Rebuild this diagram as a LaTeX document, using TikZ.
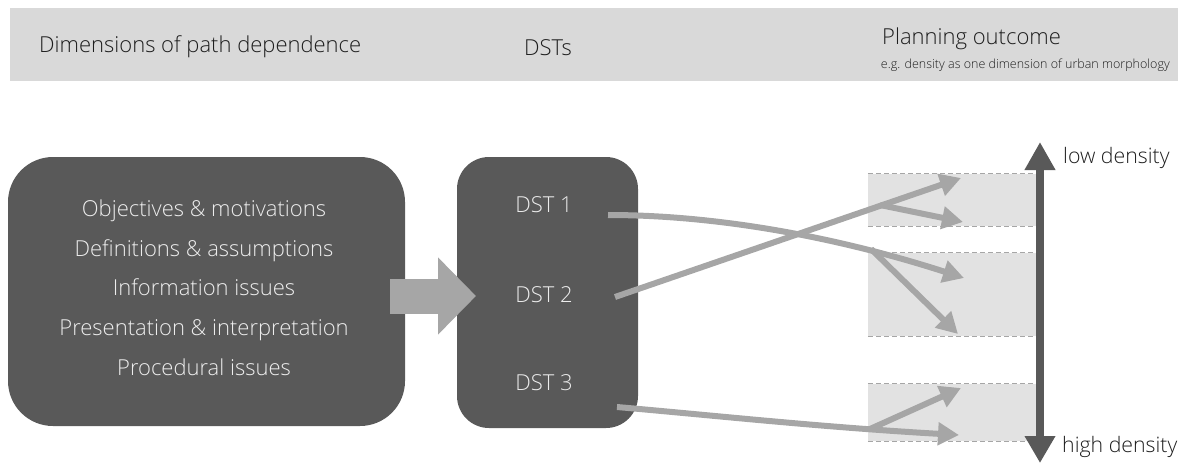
\documentclass[tikz,border=0pt]{standalone}
\usepackage{fontspec}
\setmainfont{Open Sans Light}
\usetikzlibrary{arrows.meta}
\definecolor{darkbox}{HTML}{595959}
\definecolor{flowgray}{HTML}{A6A6A6}
\definecolor{headbg}{HTML}{D9D9D9}
\definecolor{bandbg}{HTML}{E2E2E2}
\definecolor{boxtext}{HTML}{EDEDED}
\definecolor{headtext}{HTML}{1E1E1E}
\tikzset{
  darkpanel/.style={fill=darkbox, draw=none},
  band/.style={fill=bandbg, draw=none, inner sep=0pt},
  bandedge/.style={draw=flowgray, line width=1pt, dash pattern=on 5pt off 3pt},
  flow/.style={draw=flowgray, line width=6pt, -{Triangle[length=21pt,width=22pt]}},
  headlabel/.style={text=headtext, font=\fontsize{22}{25}\selectfont, inner sep=0pt},
  boxlabel/.style={text=boxtext, font=\fontsize{22}{25}\selectfont, inner sep=0pt, anchor=base},
  scalelabel/.style={text=headtext, font=\fontsize{21.3}{25}\selectfont, inner sep=0pt, anchor=base west},
}
\begin{document}
\begin{tikzpicture}[x=1pt,y=-1pt]
\useasboundingbox (0,0) rectangle (1189,464);

% header bar
\node[fill=headbg, minimum width=1168pt, minimum height=73pt, inner sep=0pt] (header) at (594,44.5) {};
\node[headlabel, anchor=base west] (hdim) at (39,52.5) {Dimensions of path dependence};
\node[headlabel, anchor=base] (hdst) at (548,55.5) {DSTs};
\node[headlabel, anchor=base west] (hplan) at (882,44.5) {Planning outcome};
\node[text=headtext, font=\fontsize{12.5}{14}\selectfont, inner sep=0pt, anchor=base east] (hsub) at (1170,68) {e.g. density as one dimension of urban morphology};

% left panel: dimensions of path dependence
\node[darkpanel, rounded corners=45pt, minimum width=397pt, minimum height=269pt] (dims) at (206.5,291.5) {};
\node[boxlabel] (d1) at (204,216.5) {Objectives \& motivations};
\node[boxlabel] (d2) at (204,256) {Definitions \& assumptions};
\node[boxlabel] (d3) at (204,295.5) {Information issues};
\node[boxlabel] (d4) at (204,335.5) {Presentation \& interpretation};
\node[boxlabel] (d5) at (204,375) {Procedural issues};

% middle panel: DSTs
\node[darkpanel, rounded corners=32pt, minimum width=181pt, minimum height=271pt] (dsts) at (547.5,292.5) {};
\node[boxlabel] (dst1) at (544,212) {DST 1};
\node[boxlabel] (dst2) at (544,302) {DST 2};
\node[boxlabel] (dst3) at (544,390.5) {DST 3};

% broad arrow between the panels
\coordinate (bigS) at (390,296);
\coordinate (bigE) at (476,296);
\draw[draw=flowgray, line width=35pt, -{Triangle[length=38pt,width=75pt]}] (bigS) -- (bigE);

% outcome bands
\node[band, minimum width=169pt, minimum height=52pt] (b1) at (952.5,200) {};
\node[band, minimum width=169pt, minimum height=83pt] (b2) at (952.5,294.5) {};
\node[band, minimum width=169pt, minimum height=57pt] (b3) at (952.5,412.5) {};
\foreach \b in {b1,b2,b3}{
  \draw[bandedge] (\b.north west) -- (\b.north east);
  \draw[bandedge] (\b.south west) -- (\b.south east);
}

% density scale
\coordinate (scTop) at (1040,142);
\coordinate (scBot) at (1040,463);
\draw[draw=darkbox, line width=8pt, {Triangle[length=28pt,width=29pt]}-{Triangle[length=27pt,width=29pt]}] (scTop) -- (scBot);
\node[scalelabel] (low) at (1063,163) {low density};
\node[scalelabel] (high) at (1062,452) {high density};

% flows from DSTs to outcomes
\coordinate (s1) at (608,215);
\coordinate (f1) at (871,249);
\coordinate (t1a) at (964,278);
\coordinate (t1b) at (958,334);
\coordinate (s2) at (615,297);
\coordinate (f2) at (880,205);
\coordinate (t2a) at (961,178);
\coordinate (t2b) at (963,222);
\coordinate (s3) at (617,407);
\coordinate (f3) at (870,429);
\coordinate (t3a) at (961,388);
\coordinate (t3b) at (959,435);

\draw[flow] (s1) .. controls (720,215) and (840,238) .. (t1a);
\draw[flow] (f1) -- (t1b);
\draw[flow] (s2) -- (t2a);
\draw[flow] (f2) -- (t2b);
\draw[flow] (s3) .. controls (720,416) and (820,427) .. (t3b);
\draw[flow] (f3) -- (t3a);
\end{tikzpicture}
\end{document}
